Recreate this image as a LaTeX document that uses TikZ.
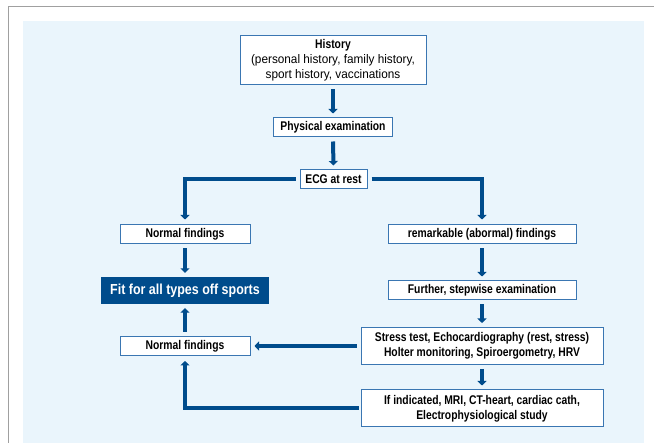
\documentclass[tikz,border=0pt]{standalone}
\usepackage{fontspec}
\setmainfont{Liberation Sans}
\newfontfamily\condbold{Liberation Sans Bold}[FakeStretch=0.82]
\newfontfamily\fitfont{Liberation Sans Bold}[FakeStretch=0.86]
\newfontfamily\condreg{Liberation Sans}[FakeStretch=0.95]
\usetikzlibrary{arrows.meta}
\definecolor{darkblue}{RGB}{0,76,140}
\definecolor{boxline}{RGB}{58,118,178}
\definecolor{bgblue}{RGB}{234,245,252}
\definecolor{framegray}{RGB}{160,160,160}
\tikzset{
  box/.style={draw=boxline, line width=1pt, fill=white, inner sep=0pt, align=center,
    font=\condbold\fontsize{12.6}{15}\selectfont, text=black},
  fitbox/.style={fill=darkblue, inner sep=0pt, align=center,
    font=\fitfont\fontsize{14.5}{16}\selectfont, text=white},
  conn/.style={draw=darkblue, line width=4pt,
    -{Triangle[width=9pt,length=4.5pt]}}
}
\begin{document}
\begin{tikzpicture}[x=1pt,y=-1pt]
\useasboundingbox (0,0) rectangle (654,443);
\fill[white] (0,0) rectangle (654,443);
\fill[bgblue] (23,21) rectangle (644,443);
\draw[framegray, line width=1.4pt] (8.7,443) -- (8.7,6.7) -- (654,6.7);

\node[box, minimum width=186pt, minimum height=49pt] (hist) at (333,60.5)
  {History\\{\condreg\fontsize{12.4}{14}\selectfont(personal history, family history,}\\{\condreg\fontsize{12.4}{14}\selectfont sport history, vaccinations}};
\node[box, minimum width=119pt, minimum height=19pt] (phys) at (333,127.5) {Physical examination};
\node[box, minimum width=67pt, minimum height=19pt] (ecg) at (333.5,179.5) {ECG at rest};
\node[box, minimum width=130pt, minimum height=19pt] (nfa) at (185,234.5) {Normal findings};
\node[box, minimum width=188pt, minimum height=19pt] (rem) at (482,234.5) {remarkable (abormal) findings};
\node[fitbox, minimum width=168pt, minimum height=27pt] (fit) at (185,290.5) {Fit for all types off sports};
\node[box, minimum width=188pt, minimum height=19pt] (fur) at (482,290.5) {Further, stepwise examination};
\node[box, minimum width=242pt, minimum height=37pt] (stress) at (482,346)
  {Stress test, Echocardiography (rest, stress)\\Holter monitoring, Spiroergometry, HRV};
\node[box, minimum width=130pt, minimum height=19pt] (nfb) at (185,346) {Normal findings};
\node[box, minimum width=242pt, minimum height=37pt] (ifi) at (482,408.5)
  {If indicated, MRI, CT-heart, cardiac cath,\\Electrophysiological study};

\draw[conn, shorten <=4pt, shorten >=4pt] (hist.south) -- (phys.north);
\draw[conn, shorten <=4pt, shorten >=4pt] (phys.south) -- (ecg.north);
\draw[conn, shorten <=4pt, shorten >=5pt] (ecg.west) -| (nfa.north);
\draw[conn, shorten <=4pt, shorten >=5pt] (ecg.east) -| (rem.north);
\draw[conn, shorten <=4pt, shorten >=4pt] (nfa.south) -- (fit.north);
\draw[conn, shorten <=4pt, shorten >=4pt] (rem.south) -- (fur.north);
\draw[conn, shorten <=4pt, shorten >=4pt] (fur.south) -- (stress.north);
\draw[conn, shorten <=4pt, shorten >=4pt] (stress.west) -- (nfb.east);
\draw[conn, shorten <=4pt, shorten >=4pt] (nfb.north) -- (fit.south);
\draw[conn, shorten <=4pt, shorten >=4pt] (stress.south) -- (ifi.north);
\draw[conn, shorten <=2pt, shorten >=5pt] (ifi.west) -| (nfb.south);
\end{tikzpicture}
\end{document}
